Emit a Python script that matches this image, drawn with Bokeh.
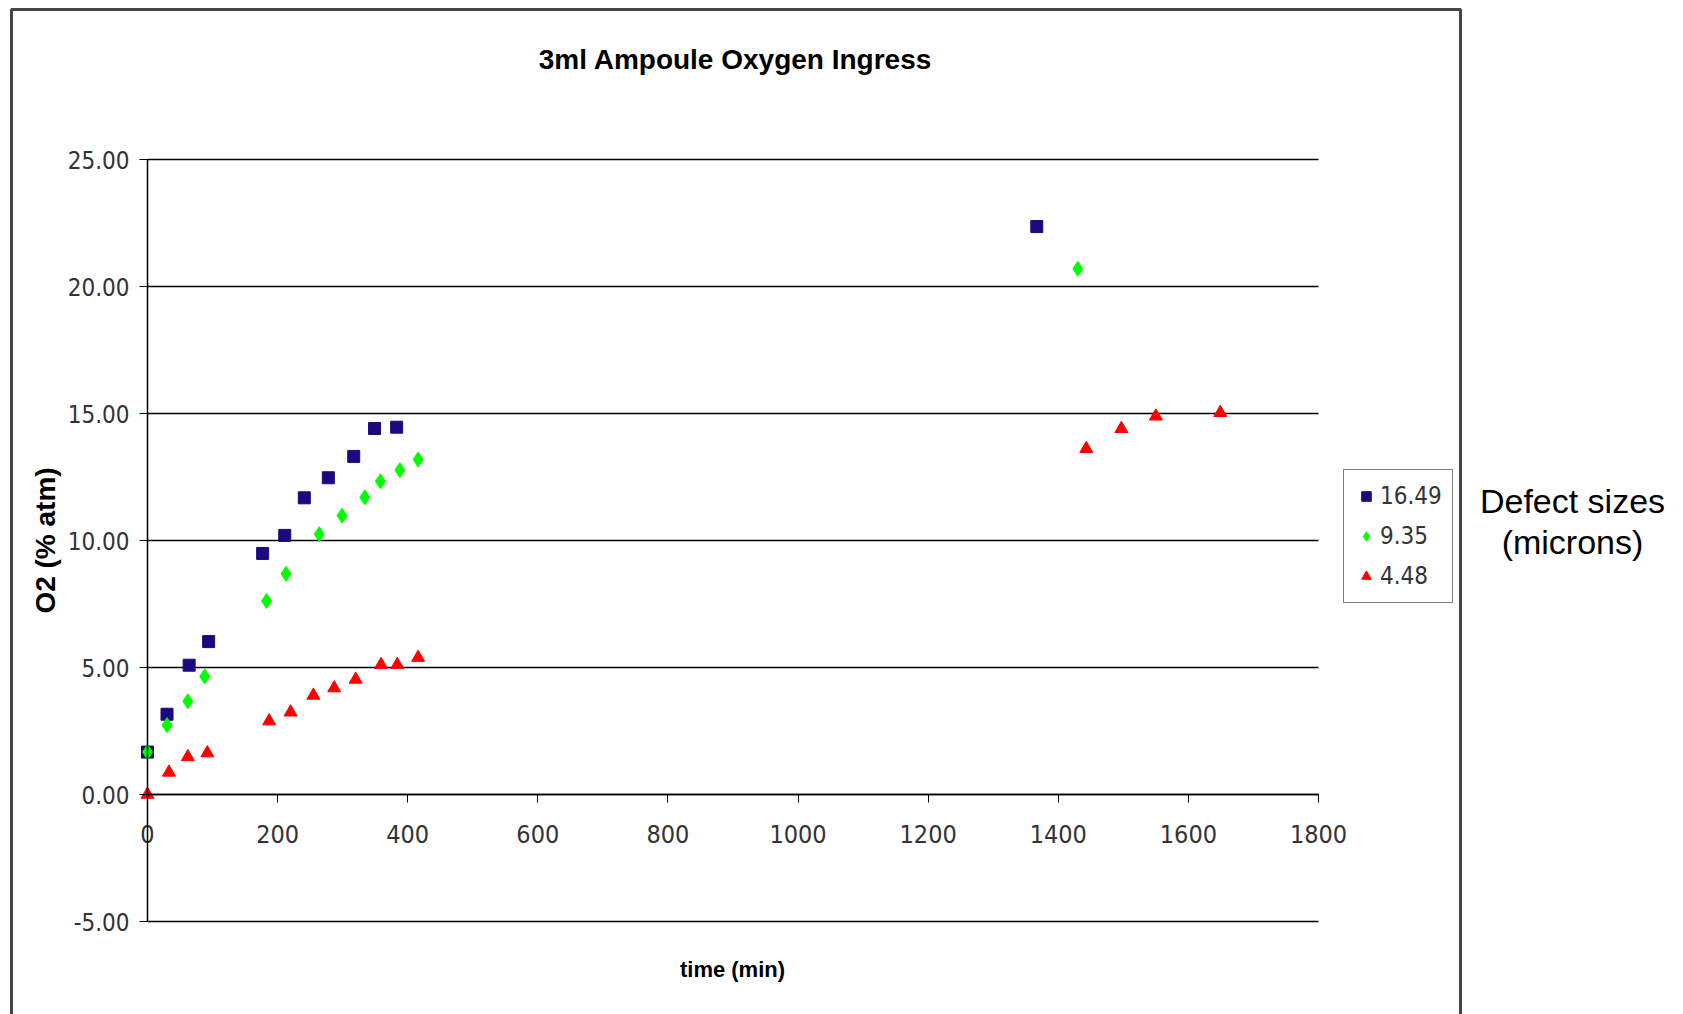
from bokeh.plotting import figure
from bokeh.models import (Legend, LegendItem, Label, BoxAnnotation, FixedTicker,
                          NumeralTickFormatter, Range1d)
from bokeh.embed import file_html
from bokeh.resources import INLINE

# Oxygen ingress measurements per defect size (microns)
t_1649 = [0, 30, 64, 94, 177, 211, 241, 278, 317, 349, 383, 1367]
o2_1649 = [1.67, 3.16, 5.09, 6.02, 9.49, 10.20, 11.68, 12.47, 13.31, 14.41, 14.46, 22.36]

t_935 = [0, 30, 62, 88, 183, 213, 264, 299, 334, 358, 388, 416, 1430]
o2_935 = [1.67, 2.73, 3.67, 4.65, 7.62, 8.69, 10.25, 10.98, 11.70, 12.33, 12.77, 13.19, 20.70]

t_448 = [0, 33, 62, 92, 187, 220, 255, 287, 320, 359, 384, 416, 1443, 1497, 1550, 1649]
o2_448 = [0.0, 0.87, 1.48, 1.63, 2.89, 3.24, 3.90, 4.19, 4.53, 5.11, 5.11, 5.39, 13.61, 14.40, 14.89, 15.03]

series_labels = ["16.49", "9.35", "4.48"]
x_ticks = [0, 200, 400, 600, 800, 1000, 1200, 1400, 1600, 1800]
y_ticks = [-5, 0, 5, 10, 15, 20, 25]
x_lo, x_hi = 0, 1800
y_lo, y_hi = -5, 25

NARROW = "Liberation Sans Narrow, DejaVu Sans Condensed, Liberation Sans"
SANS = "Liberation Sans"

# page geometry: the plotting frame fills the canvas and the axes cross at
# the origin, so the axis box sits at a fixed pixel place on the page
W, H = 1683, 1014
ORIGIN_X, ORIGIN_Y = 147, 794          # pixel position of (0, 0)
PX_X = 1171 / (x_hi - x_lo)            # pixels per minute
PX_Y = 762 / (y_hi - y_lo)             # pixels per % atm


def dx(px):
    return (px - ORIGIN_X) / PX_X


def dy(py):
    return (ORIGIN_Y - py) / PX_Y


p = figure(width=W, height=H, output_backend="svg", toolbar_location=None,
           x_range=Range1d(dx(0), dx(W)), y_range=Range1d(dy(H), dy(0)),
           min_border=0)
p.outline_line_color = None
p.background_fill_color = "white"
p.border_fill_color = "white"

# x axis crosses at y = 0
p.xaxis.fixed_location = 0
p.xaxis.bounds = (x_lo, x_hi)
p.xaxis.ticker = FixedTicker(ticks=x_ticks)
p.xaxis.major_tick_in = 0
p.xaxis.major_tick_out = 8
p.xaxis.minor_tick_line_color = None
p.xaxis.axis_line_color = "black"
p.xaxis.axis_line_width = 1.5
p.xaxis.major_tick_line_color = "black"
p.xaxis.major_label_text_font = NARROW
p.xaxis.major_label_text_font_size = "25px"
p.xaxis.major_label_text_color = "#333333"
p.xaxis.major_label_standoff = 22

# y axis at x = 0
p.yaxis.fixed_location = 0
p.yaxis.bounds = (y_lo, y_hi)
p.yaxis.ticker = FixedTicker(ticks=y_ticks)
p.yaxis.formatter = NumeralTickFormatter(format="0.00")
p.yaxis.major_tick_in = 0
p.yaxis.major_tick_out = 8
p.yaxis.minor_tick_line_color = None
p.yaxis.axis_line_color = "black"
p.yaxis.axis_line_width = 1.5
p.yaxis.major_tick_line_color = "black"
p.yaxis.major_label_text_font = NARROW
p.yaxis.major_label_text_font_size = "24px"
p.yaxis.major_label_text_color = "#333333"
p.yaxis.major_label_standoff = 10
p.yaxis.axis_label = "O2 (% atm)"
p.yaxis.axis_label_text_font = SANS
p.yaxis.axis_label_text_font_style = "bold"
p.yaxis.axis_label_text_font_size = "28px"
p.yaxis.axis_label_text_color = "black"
p.yaxis.axis_label_standoff = 4

p.xgrid.visible = False
grid = p.ygrid[0]
grid.ticker = FixedTicker(ticks=y_ticks)
grid.grid_line_color = "black"
grid.grid_line_width = 1.5
grid.bounds = (y_lo, y_hi)
if hasattr(grid, "cross_bounds"):
    grid.cross_bounds = (x_lo, x_hi)
else:
    grid.visible = False
    p.segment(x0=[x_lo] * len(y_ticks), x1=[x_hi] * len(y_ticks),
              y0=y_ticks, y1=y_ticks, line_color="black", line_width=1.5)

r1 = p.scatter(t_1649, o2_1649, marker="square", size=12,
               fill_color="#1a0a80", line_color="#1a0a80")
r2 = p.scatter(t_935, o2_935, marker="diamond", size=15,
               fill_color="#00ff00", line_color="#00ff00")
r3 = p.scatter(t_448, o2_448, marker="triangle", size=13,
               fill_color="#ff0000", line_color="#ff0000")

legend = Legend(items=[LegendItem(label=series_labels[0], renderers=[r1]),
                       LegendItem(label=series_labels[1], renderers=[r2]),
                       LegendItem(label=series_labels[2], renderers=[r3])],
                location=(1343, H - 603))
legend.border_line_color = "black"
legend.border_line_width = 1.5
legend.background_fill_color = "white"
legend.label_text_font = NARROW
legend.label_text_font_size = "24px"
legend.label_text_color = "#333333"
legend.padding = 10
legend.spacing = 8
legend.glyph_width = 24
legend.glyph_height = 32
legend.label_height = 32
legend.label_standoff = 2
p.add_layout(legend)

# chart title and x axis caption
p.add_layout(Label(x=dx(735), y=dy(59), text="3ml Ampoule Oxygen Ingress",
                   text_font=SANS, text_font_style="bold", text_font_size="28px",
                   text_align="center", text_baseline="middle", text_color="black"))
p.add_layout(Label(x=dx(732), y=dy(969), text="time (min)",
                   text_font=SANS, text_font_style="bold", text_font_size="22px",
                   text_align="center", text_baseline="middle", text_color="black"))

# legend caption outside the chart area
p.add_layout(Label(x=dx(1572), y=dy(500), text="Defect sizes", text_font=SANS,
                   text_font_size="34px", text_align="center",
                   text_baseline="middle", text_color="black"))
p.add_layout(Label(x=dx(1572), y=dy(541), text="(microns)", text_font=SANS,
                   text_font_size="34px", text_align="center",
                   text_baseline="middle", text_color="black"))

# chart area border
p.add_layout(BoxAnnotation(left=dx(11), right=dx(1460), top=dy(9), bottom=dy(H + 20),
                           fill_color=None, line_color="#444444", line_alpha=1.0,
                           line_width=3))

open("out.html", "w").write(file_html(p, INLINE))
